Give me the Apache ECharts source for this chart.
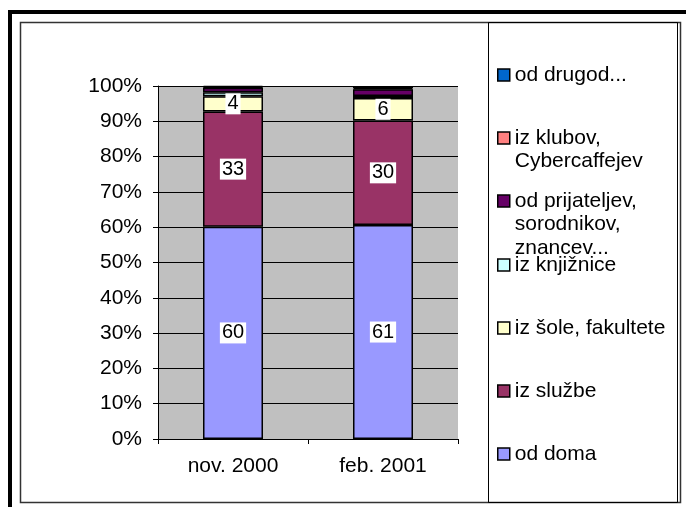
<!DOCTYPE html>
<html>
<head>
<meta charset="utf-8">
<script src="https://cdn.jsdelivr.net/npm/echarts@6/dist/echarts.min.js"></script>
<style>
  html, body { margin: 0; padding: 0; background: #fff; }
  #chart { width: 686px; height: 507px; }
</style>
</head>
<body>
<div id="chart"></div>
<script>
// podatki (delež v %)
var categories = ['nov. 2000', 'feb. 2001'];
var seriesNames = ['od doma', 'iz službe', 'iz šole, fakultete', 'iz knjižnice',
    'od prijateljev, sorodnikov, znancev...', 'iz klubov, Cybercaffejev', 'od drugod...'];
var nov2000 = [60.1, 32.7, 4.3, 1.1, 1.3, 0.2, 0.3];
var feb2001 = [60.6, 29.6, 6.4, 0.6, 1.9, 0.3, 0.6];
var colors = ['#9999FF', '#993366', '#FFFFCC', '#CCFFFF', '#660066', '#FF8080', '#0066CC'];
// legenda: vrstice besedila in sredina prve vrstice (y)
var legendLines = [
    ['od doma'],
    ['iz službe'],
    ['iz šole, fakultete'],
    ['iz knjižnice'],
    ['od prijateljev,', 'sorodnikov,', 'znancev...'],
    ['iz klubov,', 'Cybercaffejev'],
    ['od drugod...']
];
var legendY = [454, 391, 328, 265, 201, 138, 75];
var labeled = [true, true, true, false, false, false, false];

var font = '"Liberation Sans", Arial, sans-serif';
var fs = 21;
var lineH = 23.5;

var chart = echarts.init(document.getElementById('chart'));

var series = seriesNames.map(function (name, i) {
    return {
        name: name,
        type: 'bar',
        stack: 'all',
        barWidth: 60,
        data: [nov2000[i], feb2001[i]],
        itemStyle: { color: colors[i], borderColor: '#000', borderWidth: 1.5 },
        label: {
            show: labeled[i],
            position: 'inside',
            formatter: function (p) { return Math.round(p.value); },
            color: '#000',
            fontSize: 20,
            fontFamily: font,
            backgroundColor: '#fff',
            padding: [1, 2, 0, 2]
        },
        emphasis: { disabled: true }
    };
});

var legends = seriesNames.map(function (name, i) {
    var n = legendLines[i].length;
    var text = '';
    for (var k = 0; k < n - 1; k++) text += '\n';
    text += legendLines[i].join('\n');
    var totalLines = 2 * n - 1;
    return {
        orient: 'vertical',
        left: 497,
        top: legendY[i] - totalLines * lineH / 2,
        padding: 0,
        icon: 'rect',
        itemWidth: 12,
        itemHeight: 12,
        selectedMode: false,
        data: [name],
        formatter: function () { return text; },
        itemStyle: { borderColor: '#000', borderWidth: 1.5 },
        textStyle: { color: '#000', fontSize: fs, fontFamily: font, lineHeight: lineH }
    };
});

chart.setOption({
    backgroundColor: '#fff',
    animation: false,
    textStyle: { fontFamily: font },
    grid: {
        left: 158, top: 86, width: 300, height: 353,
        show: true, backgroundColor: '#C0C0C0', borderWidth: 0
    },
    legend: legends,
    xAxis: {
        type: 'category',
        data: categories,
        axisLine: { lineStyle: { color: '#000', width: 1 } },
        axisTick: { show: true, length: 5, lineStyle: { color: '#000' } },
        axisLabel: { color: '#000', fontSize: fs, fontFamily: font, margin: 17 }
    },
    yAxis: {
        type: 'value',
        min: 0, max: 100, interval: 10,
        axisLine: { show: true, lineStyle: { color: '#000', width: 1 } },
        axisTick: { show: true, length: 5, lineStyle: { color: '#000' } },
        axisLabel: { color: '#000', fontSize: fs, fontFamily: font, margin: 16, formatter: '{value}%' },
        splitLine: { show: true, lineStyle: { color: '#000', width: 1 } }
    },
    graphic: [
        { type: 'rect', shape: { x: 10, y: 12, width: 700, height: 520 }, style: { fill: 'none', stroke: '#000', lineWidth: 4 } },
        { type: 'rect', shape: { x: 20.5, y: 22.5, width: 660, height: 480 }, style: { fill: 'none', stroke: '#333', lineWidth: 1.5 } },
        { type: 'rect', shape: { x: 488.5, y: 22.5, width: 189, height: 480 }, style: { fill: 'none', stroke: '#000', lineWidth: 1 } }
    ],
    series: series
});
</script>
</body>
</html>
